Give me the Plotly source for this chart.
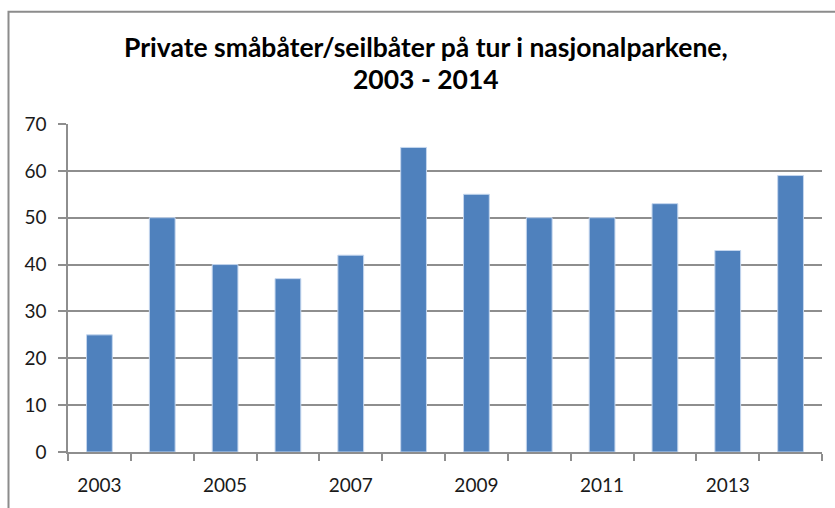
import plotly.graph_objects as go

years = [2003, 2004, 2005, 2006, 2007, 2008, 2009, 2010, 2011, 2012, 2013, 2014]
values = [25, 50, 40, 37, 42, 65, 55, 50, 50, 53, 43, 59]
label_years = [2003, 2005, 2007, 2009, 2011, 2013]
label_text = [str(y) for y in label_years]
title_line1 = "Private småbåter/seilbåter på tur i nasjonalparkene,"
title_line2 = "2003 - 2014"

W, H = 835, 508
ML, MR, MT, MB = 68, 13, 124, 52
PW, PH = W - ML - MR, H - MT - MB
grid = "#8e8e8e"
font = "Lato"

fig = go.Figure()
fig.add_trace(go.Bar(
    x=years, y=values, width=0.41,
    marker=dict(color="#4f81bd", line=dict(color="#c4d6ee", width=1)),
    hoverinfo="x+y",
))

def px_x(p):
    return (p - ML) / PW

def px_y(p):
    return 1 - (p - MT) / PH

fig.update_layout(
    width=W, height=H, autosize=False,
    margin=dict(l=ML, r=MR, t=MT, b=MB),
    paper_bgcolor="white", plot_bgcolor="white",
    showlegend=False,
    font=dict(family=font, size=19, color="#1a1a1a"),
    xaxis=dict(
        range=[2002.5, 2014.5], tickmode="array", tickvals=label_years, ticktext=label_text,
        ticks="", showgrid=False, zeroline=False,
        showline=True, linecolor=grid, linewidth=1.5,
        ticklabelstandoff=15,
        minor=dict(tick0=2002.5, dtick=1, ticks="outside", ticklen=7, tickcolor=grid, tickwidth=1.5, showgrid=False),
    ),
    yaxis=dict(
        range=[0, 70], dtick=10, tick0=0,
        showgrid=True, gridcolor=grid, gridwidth=1.5,
        showline=True, linecolor=grid, linewidth=1.5,
        ticks="outside", ticklen=8, tickcolor=grid, tickwidth=1.5,
        ticklabelstandoff=8, zeroline=False,
    ),
    shapes=[dict(
        type="path", xref="paper", yref="paper",
        path=f"M {px_x(8.5)} {px_y(H + 5)} L {px_x(8.5)} {px_y(10.5)} L {px_x(W + 5)} {px_y(10.5)}",
        line=dict(color="#8c8c8c", width=2),
    )],
    annotations=[
        dict(text=f"<b>{title_line1}</b>", xref="paper", yref="paper",
             x=px_x(426), y=px_y(46), xanchor="center", yanchor="middle",
             showarrow=False, font=dict(family=font, size=26.5, color="#000")),
        dict(text=f"<b>{title_line2}</b>", xref="paper", yref="paper",
             x=px_x(426), y=px_y(78), xanchor="center", yanchor="middle",
             showarrow=False, font=dict(family=font, size=26.5, color="#000")),
    ],
)

fig.write_html("out.html", config={"displayModeBar": False},
               post_script="document.body.style.margin='0';document.body.style.padding='0';")
